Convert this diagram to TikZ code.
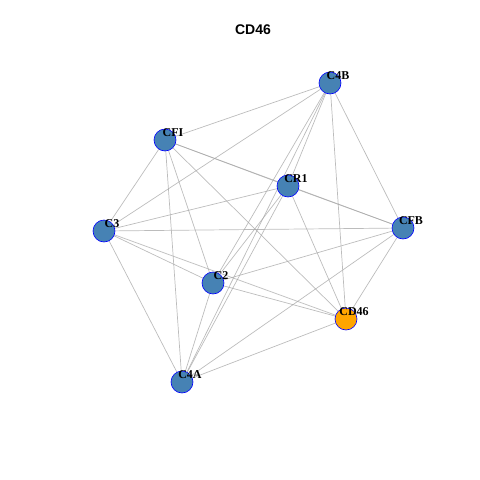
\documentclass[tikz,border=0pt]{standalone}
\usepackage{fontspec}
\setmainfont{Liberation Serif}
\setsansfont{Liberation Sans}
\usetikzlibrary{backgrounds}
\definecolor{steel}{RGB}{70,130,180}
\definecolor{hub}{RGB}{255,165,0}
\tikzset{gene node/.style={circle,fill=steel,draw=blue,line width=0.6pt,minimum size=22pt,inner sep=0pt},
         hub node/.style={gene node,fill=hub},
         gene label/.style={font=\bfseries\fontsize{12}{12}\selectfont,inner sep=0pt},
         edge/.style={draw=black!35,draw opacity=0.75,line width=0.7pt}
}
\begin{document}
\begin{tikzpicture}[x=1pt,y=-1pt]
\useasboundingbox (0,0) rectangle (480,480);
\node[font=\sffamily\bfseries\fontsize{14}{14}\selectfont] (title) at (253,30) {CD46};
% genes
\foreach \n/\x/\y in {C4B/330/83,CFI/165/140,CR1/288/186,C3/104/231,CFB/403/228,C2/213/283,C4A/182/382}
    \node[gene node] (\n) at (\x,\y) {};
\node[hub node] (CD46) at (346,319) {};
\foreach \n in {C4B,CFI,CR1,C3,CFB,C2,CD46,C4A}
    \node[gene label] at ([shift={(8,-7)}]\n.center) {\n};
% interactions
\begin{pgfonlayer}{background}
\foreach \a/\i in {C4B/1,CFI/2,CR1/3,C3/4,CFB/5,C2/6,CD46/7,C4A/8}{
    \foreach \b/\j in {C4B/1,CFI/2,CR1/3,C3/4,CFB/5,C2/6,CD46/7,C4A/8}{
        \ifnum\i<\j \draw[edge] (\a) -- (\b); \fi
    }
}
\end{pgfonlayer}
\end{tikzpicture}
\end{document}
